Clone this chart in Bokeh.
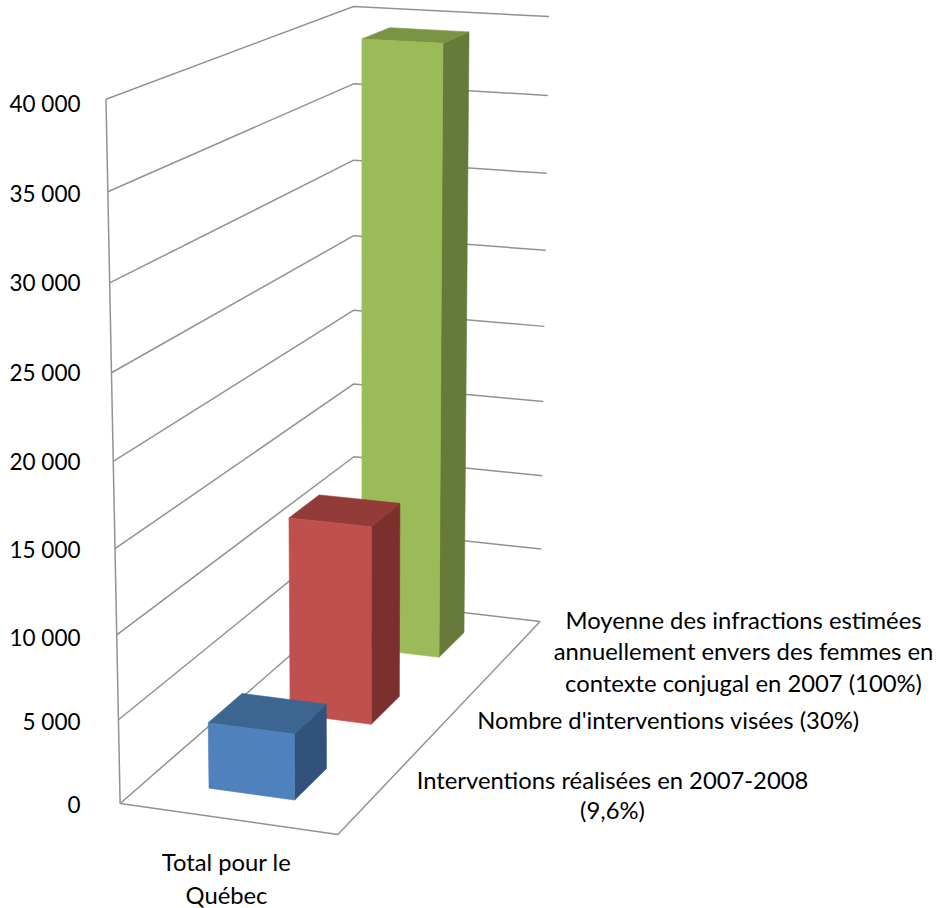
import numpy as np
from bokeh.plotting import figure
from bokeh.core.properties import value
from bokeh.embed import file_html
from bokeh.resources import INLINE

# ---- data ----
series_names = ["Interventions réalisées en 2007-2008\n(9,6%)",
                "Nombre d'interventions visées (30%)",
                "Moyenne des infractions estimées\nannuellement envers des femmes en\ncontexte conjugal en 2007 (100%)"]
series_values = [3950, 12400, 39350]
category_label = "Total pour le\nQuébec"
axis_ticks = [0, 5000, 10000, 15000, 20000, 25000, 30000, 35000, 40000]
axis_max = 40000
tick_labels = ["0", "5 000", "10 000", "15 000", "20 000", "25 000", "30 000", "35 000", "40 000"]

# ---- styles ----
front_colors = ["#4F81BD", "#C0504D", "#9BBB59"]
side_colors = ["#31527A", "#7C302E", "#667B3A"]
top_colors = ["#3D6592", "#923B39", "#7A9443"]
GRID = "#929292"
FONT = "Lato"
FS = "23.8px"
FS_TICK = "22.5px"

# ---- camera: maps (along category, depth, height fraction) to page pixels ----
cam = [((0, 0, 0), (118, 803.5)), ((0, 0, .125), (118, 719)), ((0, 0, .25), (116, 635)),
       ((0, 0, .375), (115, 548)), ((0, 0, .5), (113, 459)), ((0, 0, .625), (111.5, 371)),
       ((0, 0, .75), (109.5, 283)), ((0, 0, .875), (108, 192)), ((0, 0, 1), (105.5, 99)),
       ((1, 1, 0), (538, 620)), ((1, 1, .125), (540, 548)), ((1, 1, .25), (541.5, 476)),
       ((1, 1, .375), (543, 401)), ((1, 1, .5), (544, 326)), ((1, 1, .625), (545, 250)),
       ((1, 1, .75), (547, 173)), ((1, 1, .875), (548, 95)), ((1, 1, 1), (550, 16)),
       ((1, 0, 0), (337, 834.5)), ((0, 1, 1), (351, 6)), ((0, 1, .875), (352, 83)),
       ((0, 1, .75), (352.5, 160)), ((0, 1, .625), (353, 235)), ((0, 1, 0), (357, 600))]
A, b = [], []
for (X, Y, Z), (sx, sy) in cam:
    A.append([X, Y, Z, 1, 0, 0, 0, 0, -sx * X, -sx * Y, -sx * Z]); b.append(sx)
    A.append([0, 0, 0, 0, X, Y, Z, 1, -sy * X, -sy * Y, -sy * Z]); b.append(sy)
M = np.append(np.linalg.lstsq(np.array(A, float), np.array(b, float), rcond=None)[0], 1).reshape(3, 4)


def proj(u, v, val):
    q = M @ np.array([u, v, val / axis_max, 1.0])
    return q[0] / q[2], q[1] / q[2]


def poly(pts):
    pp = [proj(*t) for t in pts]
    return [t[0] for t in pp], [t[1] for t in pp]


W, H = 943, 908
p = figure(width=W, height=H, x_range=(0, W), y_range=(H, 0),
           output_backend="svg", toolbar_location=None, min_border=0)
p.axis.visible = False
p.grid.visible = False
p.outline_line_color = None

# walls
for t in axis_ticks:
    xs, ys = poly([(0, 0, t), (0, 1, t), (1, 1, t)])
    p.line(xs, ys, line_color=GRID, line_width=1.5)
xs, ys = poly([(0, 0, 0), (0, 0, axis_max)])
p.line(xs, ys, line_color=GRID, line_width=1.5)
xs, ys = poly([(0, 0, 0), (1, 0, 0), (1, 1, 0)])
p.line(xs, ys, line_color=GRID, line_width=1.5)

# bars, back to front
n = len(series_values)
gap = 1.5
bw = 1 / (1 + gap)
u0, u1 = (1 - bw) / 2 - 0.008, (1 + bw) / 2 - 0.008
for i in reversed(range(n)):
    v0 = (i + (1 - bw) / 2) / n
    v1 = (i + (1 + bw) / 2) / n
    h = series_values[i]
    faces = [([(u1, v0, 0), (u1, v1, 0), (u1, v1, h), (u1, v0, h)], side_colors[i]),
             ([(u0, v0, h), (u1, v0, h), (u1, v1, h), (u0, v1, h)], top_colors[i]),
             ([(u0, v0, 0), (u1, v0, 0), (u1, v0, h), (u0, v0, h)], front_colors[i])]
    for pts, col in faces:
        xs, ys = poly(pts)
        p.patch(xs, ys, fill_color=col, line_color=col, line_width=0.6)


def label(x, y, txt, align="center", size=FS):
    p.text([x], [y], text=[txt], text_font=value(FONT), text_font_size=size, text_color="#000000",
           text_align=align, text_baseline="middle")


# value axis labels
tick_y = [804, 721, 637, 549, 461, 372, 282, 193, 103]
for y, t in zip(tick_y, tick_labels):
    label(80, y, t, "right", FS_TICK)

# series labels
line_pos = [[(612, 779), (612, 809)], [(668, 719)], [(743, 619), (743, 650), (743, 682)]]
for name, pos in zip(series_names, line_pos):
    for (x, y), t in zip(pos, name.split("\n")):
        label(x, y, t)

# category label
for (x, y), t in zip([(226, 861), (226, 894)], category_label.split("\n")):
    label(x, y, t)

open("out.html", "w").write(file_html(p, INLINE))
